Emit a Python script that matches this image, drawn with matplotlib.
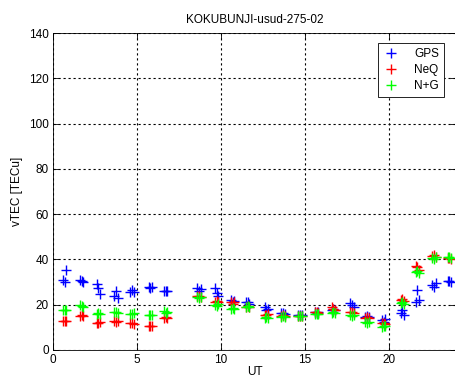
import matplotlib
matplotlib.use('Agg')
import matplotlib.pyplot as plt

# UT times (hours) of each sample, three samples per hour, hour 7 missing
ut = [0.6, 0.7, 0.8, 1.6, 1.7, 1.8, 2.6, 2.7, 2.8, 3.65, 3.75, 3.85,
      4.6, 4.7, 4.8, 5.7, 5.8, 5.9, 6.6, 6.7, 6.8, 8.6, 8.7, 8.8,
      9.65, 9.75, 9.85, 10.6, 10.7, 10.8, 11.5, 11.6, 11.7, 12.6, 12.7, 12.8,
      13.6, 13.7, 13.8, 14.6, 14.7, 14.8, 15.6, 15.7, 15.8, 16.6, 16.7, 16.8,
      17.7, 17.8, 17.9, 18.6, 18.7, 18.8, 19.6, 19.7, 19.8, 20.7, 20.8, 20.9,
      21.6, 21.7, 21.8, 22.6, 22.7, 22.8, 23.5, 23.6, 23.7]

gps = [31, 30, 35.3, 31, 30.5, 30, 29, 27.4, 24.7, 24, 26, 23,
       25.5, 26.5, 25.5, 27.8, 27.5, 27.8, 26, 26.2, 26, 27.4, 26, 27,
       27.4, 25, 24, 22, 21, 21.5, 21, 21, 20.5, 19, 17.6, 18,
       16.3, 16.5, 16, 15.5, 15.5, 15.5, 17, 16.5, 17, 17.6, 18, 17.6,
       20.7, 20, 19, 14.6, 15, 14.5, 13.2, 12.5, 13.5, 16.3, 17.6, 15.5,
       21, 26.5, 22, 28.7, 27.8, 29.5, 30.5, 30.5, 30]

neq = [12.8, 13, 12.8, 15, 15.5, 15, 12, 11.9, 12.5, 12.8, 12.5, 13,
       11.9, 12, 11.5, 10.6, 10.8, 10.6, 14.1, 14.5, 14, 23.8, 24, 23.5,
       21, 21.5, 21, 21, 20.5, 21, 19, 19.5, 19, 15.5, 15.5, 16,
       15, 15.5, 15, 15, 15.2, 15, 16.8, 17, 16.5, 19, 18, 17.5,
       16.8, 17, 16.5, 14.1, 14.5, 14, 11.9, 12, 11.5, 22, 22.5, 21.5,
       37, 36.5, 35.5, 41.5, 42, 41, 40.6, 40.5, 40]

ng = [17.7, 17.5, 17.7, 19.9, 19.5, 19, 15.9, 16.5, 16, 16.8, 17, 16.5,
      15.9, 16, 16.5, 15.5, 15.5, 15.5, 17.2, 16.5, 17, 23.4, 23, 23.5,
      19.9, 19.5, 20.5, 18.1, 18.5, 18, 19, 19.5, 19, 14.1, 14.5, 14,
      14.6, 15, 14.6, 15, 15, 15, 15.9, 16, 16, 16.3, 16.8, 16.3,
      15.5, 15, 15.5, 12.4, 12, 12.5, 10.2, 10.5, 10.5, 20.7, 21, 20.5,
      34.4, 35, 34, 40.6, 40, 41, 41, 41, 40.5]

plt.rcParams['font.family'] = ['Liberation Sans', 'DejaVu Sans']
plt.rcParams['font.size'] = 8.5

fig = plt.figure(figsize=(4.56, 3.78), dpi=100)
ax = fig.add_axes([53 / 456, 1 - 350 / 378, 403 / 456, 317 / 378])

ax.plot(ut, gps, '+', color='#0000ff', ms=6.5, mew=1, label='GPS')
ax.plot(ut, neq, '+', color='#ff0000', ms=6.5, mew=1, label='NeQ')
ax.plot(ut, ng, '+', color='#00ff00', ms=6.5, mew=1, label='N+G')

ax.set_xlim(0, 24)
ax.set_ylim(0, 140)
ax.set_xticks([0, 5, 10, 15, 20])
ax.set_yticks(range(0, 141, 20))
ax.grid(True, color='black', linestyle=(0, (2, 2.5)), linewidth=0.8)
ax.tick_params(direction='in', top=True, right=True, length=4, width=0.6, pad=3)
for s in ax.spines.values():
    s.set_linewidth(0.6)

ax.set_title('KOKUBUNJI-usud-275-02', fontsize=8.5, pad=7)
ax.set_xlabel('UT', labelpad=0)
ax.set_ylabel('vTEC [TECu]', labelpad=4)

leg = ax.legend(loc='upper right', bbox_to_anchor=(0.985, 0.987), fancybox=False,
                edgecolor='black', framealpha=1, handlelength=1.5,
                handletextpad=1.2, borderpad=0.4, labelspacing=0.35,
                fontsize=8.5)
leg.get_frame().set_linewidth(0.6)

fig.savefig('out.png', dpi=100)
